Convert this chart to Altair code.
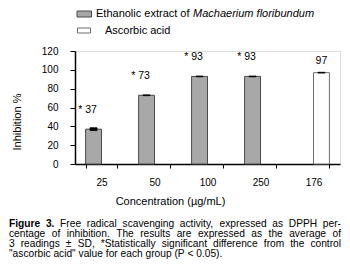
import altair as alt
import pandas as pd

# ---------------- data ----------------
categories = ["25", "50", "100", "250", "176"]
series_names = ["Ethanolic extract of Machaerium floribundum", "Ascorbic acid"]
extract_conc = ["25", "50", "100", "250"]
extract_values = [37, 73, 93, 93]
extract_sd = [1.5, 0.4, 0.4, 0.4]
extract_marks = ["*", "*", "*", "*"]
ascorbic_conc = ["176"]
ascorbic_values = [97]
ascorbic_sd = [0.4]
y_ticks = [0, 20, 40, 60, 80, 100, 120]

caption_bold = "Figure 3."
caption_lines = [
    "Figure 3. Free radical scavenging activity, expressed as DPPH per-",
    "centage of inhibition. The results are expressed as the average of",
    "3 readings \u00b1 SD, *Statistically significant difference from the control",
    "\"ascorbic acid\" value for each group (P < 0.05).",
]

FONT = "Liberation Sans"

rows = []
for c, v, s, m in zip(extract_conc, extract_values, extract_sd, extract_marks):
    rows.append({"conc": c, "series": series_names[0], "value": v,
                 "lo": v - s, "hi": v + s, "label": f"{m} {v}"})
for c, v, s in zip(ascorbic_conc, ascorbic_values, ascorbic_sd):
    rows.append({"conc": c, "series": series_names[1], "value": v,
                 "lo": v - s, "hi": v + s, "label": f"{v}"})
df = pd.DataFrame(rows)

# ---------------- caption layout (Arial metrics, justified) ----------------
REG = {" ": 278, "a": 556, "b": 556, "c": 500, "d": 556, "e": 556, "f": 278, "g": 556,
       "h": 556, "i": 222, "j": 222, "k": 500, "l": 222, "m": 833, "n": 556, "o": 556,
       "p": 556, "q": 556, "r": 333, "s": 500, "t": 278, "u": 556, "v": 500, "w": 722,
       "x": 500, "y": 500, "z": 500, "A": 667, "B": 667, "C": 722, "D": 722, "E": 667,
       "F": 611, "G": 778, "H": 722, "I": 278, "P": 667, "R": 722, "S": 667, "T": 611,
       ",": 278, ".": 278, "-": 333, "(": 333, ")": 333, "\"": 355, "*": 389,
       "\u00b1": 584, "<": 584, "%": 889}
BOLD = {"F": 611, "i": 278, "g": 611, "u": 611, "r": 389, "e": 556, "3": 556, ".": 278}

CAP_SIZE = 10.2
CAP_LEFT, CAP_RIGHT = -66, 266
CAP_Y = [172.5, 182.8, 193.1, 203.4]


def wwidth(word, bold):
    tbl = BOLD if bold else REG
    return sum(tbl.get(ch, 556) for ch in word) * CAP_SIZE / 1000.0


bold_words = caption_bold.split()
cap_rows = []
for li, line in enumerate(caption_lines):
    words = line.split()
    flags = [li == 0 and wi < len(bold_words) for wi in range(len(words))]
    widths = [wwidth(w, b) for w, b in zip(words, flags)]
    if li < len(caption_lines) - 1:
        gap = (CAP_RIGHT - CAP_LEFT - sum(widths)) / (len(words) - 1)
    else:
        gap = REG[" "] * CAP_SIZE / 1000.0
    x = CAP_LEFT
    for w, b, wd in zip(words, flags, widths):
        cap_rows.append({"word": w, "px": x, "py": CAP_Y[li], "bold": b})
        x += wd + gap
cap_df = pd.DataFrame(cap_rows)

# ---------------- chart ----------------
x_axis = alt.Axis(title=None, labelAngle=0, tickBand="extent", tickSize=4,
                  labelPadding=9, labelFontSize=10, labelColor="black",
                  domainColor="black", tickColor="black", domainWidth=1.5,
                  labelFont=FONT)
y_axis = alt.Axis(title=None, values=y_ticks, tickSize=5, labelPadding=12,
                  labelFontSize=10, labelColor="black", domainColor="black",
                  tickColor="black", domainWidth=1.5, grid=False, labelFont=FONT)

X = alt.X("conc:N", sort=categories,
          scale=alt.Scale(domain=categories, paddingInner=0.4, paddingOuter=0.2),
          axis=x_axis)
XO = alt.XOffset("series:N", sort=series_names,
                 scale=alt.Scale(domain=series_names))
YS = alt.Scale(domain=[0, 120])

base = alt.Chart(df)

bars = base.mark_bar(strokeWidth=1).encode(
    x=X, xOffset=XO,
    y=alt.Y("value:Q", scale=YS, axis=y_axis),
    color=alt.Color("series:N", scale=alt.Scale(domain=series_names,
                                                range=["#a8a8a8", "#ffffff"]),
                    legend=None),
    stroke=alt.Stroke("series:N", scale=alt.Scale(domain=series_names,
                                                  range=["#4a4a4a", "#6e6e6e"]),
                      legend=None),
)

err = base.mark_bar(width=7, color="black", stroke="black", strokeWidth=0.8).encode(
    x=X, xOffset=XO,
    y=alt.Y("lo:Q", scale=YS, axis=y_axis),
    y2="hi:Q",
)

lab_ext = base.transform_filter(alt.datum.series == series_names[0]).mark_text(
    dx=-6, dy=-19, fontSize=10.5, font=FONT, color="black", baseline="middle"
).encode(x=X, xOffset=XO, y=alt.Y("value:Q", scale=YS, axis=y_axis), text="label:N")

lab_asc = base.transform_filter(alt.datum.series == series_names[1]).mark_text(
    dy=-12, fontSize=10.5, font=FONT, color="black", baseline="middle"
).encode(x=X, xOffset=XO, y=alt.Y("value:Q", scale=YS, axis=y_axis), text="label:N")


def one_text(txt, x, y, **kw):
    return alt.Chart(pd.DataFrame({"t": [txt]})).mark_text(
        font=FONT, color="black", baseline="middle", **kw
    ).encode(x=alt.value(x), y=alt.value(y), text="t:N")


def one_rect(x, x2, y, y2, fill, stroke):
    return alt.Chart(pd.DataFrame({"t": [0]})).mark_rect(
        fill=fill, stroke=stroke, strokeWidth=1
    ).encode(x=alt.value(x), x2=alt.value(x2), y=alt.value(y), y2=alt.value(y2))


legend_layers = [
    one_rect(2, 16.5, -40, -34, "#a8a8a8", "#4a4a4a"),
    one_rect(2.5, 15.5, -23, -18, "#ffffff", "#6e6e6e"),
    one_text("Ethanolic extract of ", 21, -37, align="left", fontSize=11),
    one_text("Machaerium floribundum", 118, -37, align="left", fontSize=11,
             fontStyle="italic"),
    one_text("Ascorbic acid", 30, -20.5, align="left", fontSize=11),
    one_text("Inhibition %", -57, 71, align="center", fontSize=11, angle=270),
    one_text("Concentration (\u00b5g/mL)", 95.5, 151.3, align="center", fontSize=11),
]

cap_x = alt.X("px:Q", scale=None, axis=None)
cap_y = alt.Y("py:Q", scale=None, axis=None)
cap_norm = alt.Chart(cap_df).transform_filter(~alt.datum.bold).mark_text(
    font=FONT, fontSize=CAP_SIZE, align="left", baseline="middle", color="black"
).encode(x=cap_x, y=cap_y, text="word:N")
cap_bold = alt.Chart(cap_df).transform_filter(alt.datum.bold).mark_text(
    font=FONT, fontSize=CAP_SIZE, align="left", baseline="middle", color="black",
    fontWeight="bold"
).encode(x=cap_x, y=cap_y, text="word:N")

chart = alt.layer(
    bars, err, lab_ext, lab_asc, *legend_layers, cap_norm, cap_bold
).properties(
    width=265, height=113,
    autosize=alt.AutoSizeParams(type="none"),
    padding={"left": 67, "top": 43, "right": 2, "bottom": 106},
).configure_view(stroke=None).configure(font=FONT, background="white")

chart.save("out.html", embed_options={"renderer": "svg", "actions": False})
